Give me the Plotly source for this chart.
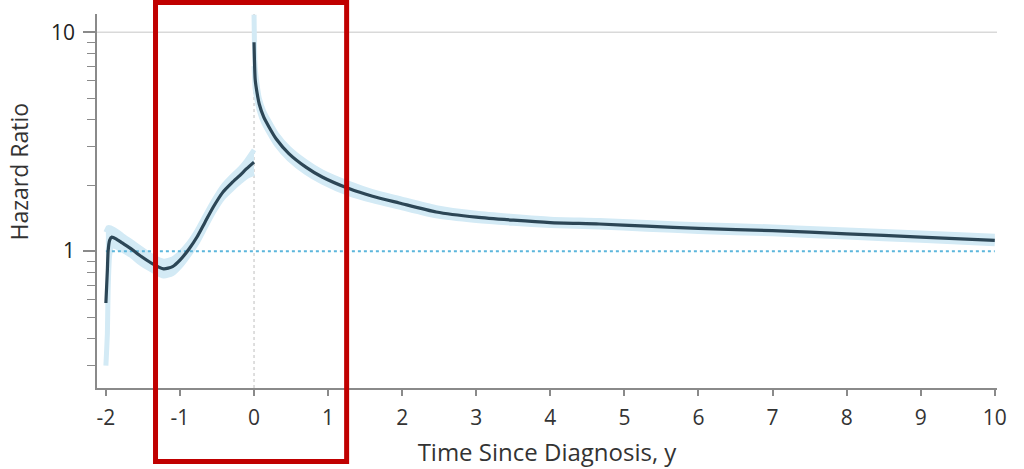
import plotly.graph_objects as go

# ---- data ----
pre_x = [-2.0, -1.98, -1.97, -1.95, -1.92, -1.85, -1.78, -1.65, -1.55, -1.38, -1.22, -1.1, -1.0,
         -0.88, -0.77, -0.66, -0.55, -0.42, -0.3, -0.19, -0.1, 0.0]
pre_hr = [0.58, 0.82, 1.0, 1.12, 1.16, 1.13, 1.09, 1.02, 0.96, 0.88, 0.83, 0.85, 0.91,
          1.02, 1.16, 1.36, 1.59, 1.86, 2.05, 2.22, 2.38, 2.55]
pre_lo = [0.30, 0.42, 0.66, 0.95, 1.06, 1.04, 1.01, 0.95, 0.89, 0.82, 0.77, 0.79, 0.85,
          0.96, 1.09, 1.28, 1.50, 1.75, 1.92, 2.07, 2.19, 2.27]
pre_hi = [1.22, 1.26, 1.28, 1.28, 1.27, 1.23, 1.18, 1.10, 1.04, 0.95, 0.90, 0.92, 0.98,
          1.09, 1.24, 1.45, 1.69, 1.98, 2.19, 2.38, 2.59, 2.9]

post_x = [0.0, 0.005, 0.015, 0.04, 0.07, 0.13, 0.2, 0.3, 0.47, 0.7, 0.92, 1.28, 1.6, 1.96,
          2.46, 3.0, 3.5, 4.0, 4.66, 5.3, 6.0, 7.0, 8.0, 9.0, 10.0]
post_hr = [9.0, 7.6, 6.1, 5.3, 4.7, 4.1, 3.7, 3.25, 2.79, 2.42, 2.18, 1.93, 1.78, 1.66,
           1.51, 1.43, 1.385, 1.35, 1.33, 1.30, 1.27, 1.24, 1.20, 1.16, 1.12]
post_lo = [7.0, 6.5, 5.5, 4.9, 4.4, 3.86, 3.49, 3.07, 2.64, 2.29, 2.07, 1.83, 1.70, 1.59,
           1.45, 1.38, 1.34, 1.31, 1.29, 1.26, 1.23, 1.20, 1.16, 1.12, 1.08]
post_hi = [12.0, 9.0, 6.9, 5.8, 5.0, 4.36, 3.93, 3.44, 2.95, 2.56, 2.30, 2.04, 1.87, 1.74,
           1.58, 1.49, 1.44, 1.40, 1.38, 1.35, 1.32, 1.29, 1.25, 1.21, 1.17]

x_ticks = [-2, -1, 0, 1, 2, 3, 4, 5, 6, 7, 8, 9, 10]
x_tick_labels = ["-2", "-1", "0", "1", "2", "3", "4", "5", "6", "7", "8", "9", "10"]
y_ticks = [1, 10]
y_tick_labels = ["1", "10"]
y_minor = [0.3, 0.4, 0.5, 0.6, 0.7, 0.8, 0.9, 2, 3, 4, 5, 6, 7, 8, 9]

LINE = "#2c4656"
BAND = "#d3eaf5"
FONT = "Open Sans"

fig = go.Figure()

for xs, lo, hi in [(pre_x, pre_lo, pre_hi), (post_x, post_lo, post_hi)]:
    fig.add_trace(go.Scatter(x=xs, y=lo, mode="lines",
                             line=dict(width=5, color=BAND, shape="spline", smoothing=0.6),
                             hoverinfo="skip", showlegend=False))
    fig.add_trace(go.Scatter(x=xs, y=hi, mode="lines",
                             line=dict(width=5, color=BAND, shape="spline", smoothing=0.6),
                             fill="tonexty", fillcolor=BAND, hoverinfo="skip", showlegend=False))

# reference line at HR = 1
fig.add_trace(go.Scatter(x=[-2, 10], y=[1, 1], mode="lines",
                         line=dict(color="#5cb6dc", width=2, dash="dot"),
                         hoverinfo="skip", showlegend=False))

for xs, hr in [(pre_x, pre_hr), (post_x, post_hr)]:
    fig.add_trace(go.Scatter(x=xs, y=hr, mode="lines",
                             line=dict(color=LINE, width=3.2, shape="spline", smoothing=0.6),
                             showlegend=False))

# grid line at 10 and vertical line at 0
fig.add_shape(type="line", xref="paper", yref="y", x0=0, x1=1, y0=10, y1=10,
              line=dict(color="#d9d9d9", width=1.5), layer="below")
fig.add_shape(type="line", xref="x", yref="paper", x0=0, x1=0, y0=0, y1=1,
              line=dict(color="#d4d4d4", width=1.5, dash="dot"), layer="below")

# red highlight rectangle
fig.add_shape(type="rect", xref="x", yref="paper", x0=-1.33, x1=1.25, y0=-0.1965, y1=1.031,
              line=dict(color="#c00000", width=5), fillcolor="rgba(0,0,0,0)", layer="above")

fig.add_annotation(text="Hazard Ratio", xref="paper", yref="paper", x=-0.087, y=0.578,
                   textangle=-90, showarrow=False, xanchor="center", yanchor="middle",
                   font=dict(family=FONT, size=23, color="#333333"))

fig.update_layout(
    width=1024, height=469,
    margin=dict(l=97, r=27, t=14, b=81, autoexpand=False),
    paper_bgcolor="white", plot_bgcolor="white",
    font=dict(family=FONT, size=20, color="#333333"),
    xaxis=dict(range=[-2.12, 10.03], tickvals=x_ticks, ticktext=x_tick_labels,
               showgrid=False, zeroline=False, showline=True, linecolor="#8a8a8a", linewidth=1.5,
               ticks="outside", ticklen=6, tickcolor="#8a8a8a", tickwidth=1.5,
               ticklabelstandoff=4, automargin=False,
               tickfont=dict(family=FONT, size=21, color="#333333"),
               title=dict(text="Time Since Diagnosis, y", standoff=14,
                          font=dict(family=FONT, size=24, color="#333333"))),
    yaxis=dict(type="log", range=[-0.625, 1.083], tickvals=y_ticks, ticktext=y_tick_labels,
               showgrid=False, zeroline=False, showline=True, linecolor="#8a8a8a", linewidth=1.5,
               ticks="outside", ticklen=12, tickcolor="#8a8a8a", tickwidth=1.5,
               ticklabelstandoff=4, automargin=False,
               tickfont=dict(family=FONT, size=21, color="#222222"),
               minor=dict(tickvals=y_minor, ticks="outside", ticklen=8, tickcolor="#8a8a8a",
                          tickwidth=1.2, showgrid=False)),
)

fig.write_html("out.html", config={"displayModeBar": False},
               post_script="document.body.style.margin='0';document.body.style.overflow='hidden';")
